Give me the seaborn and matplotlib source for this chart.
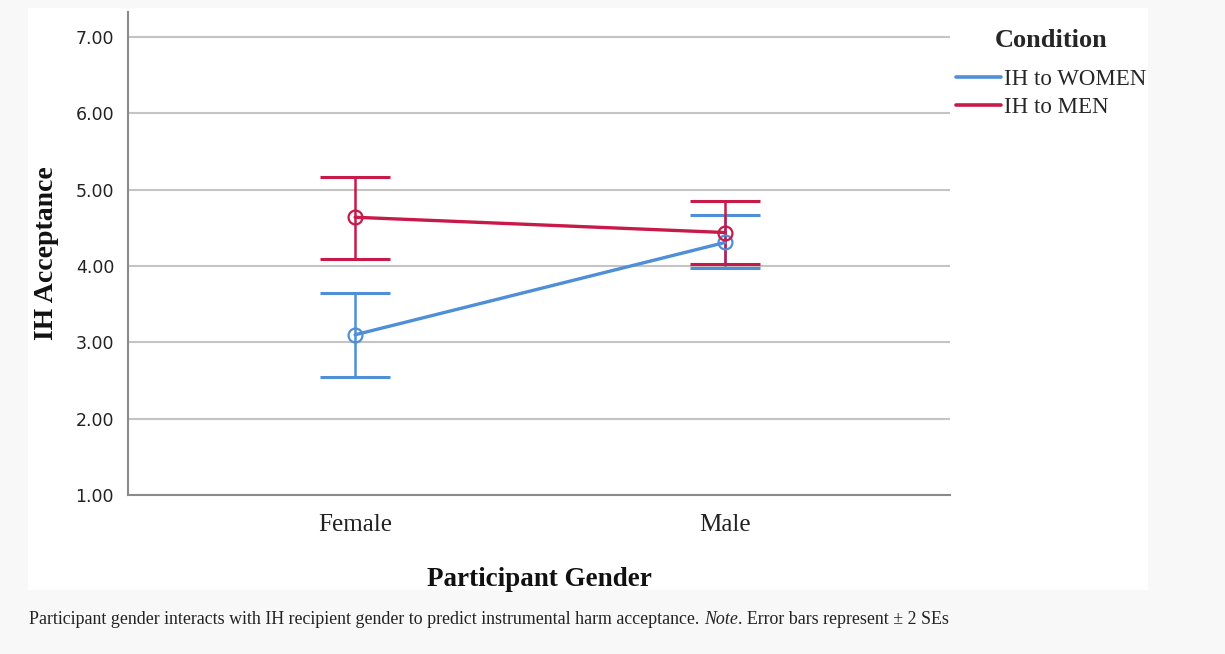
import matplotlib
matplotlib.use("Agg")
import matplotlib.pyplot as plt
import seaborn as sns
import pandas as pd
import numpy as np
from matplotlib.patches import Rectangle
from matplotlib.lines import Line2D

# ---- data ----
participant_gender = ["Female", "Male"]
conditions = ["IH to WOMEN", "IH to MEN"]
means_women = [3.10, 4.31]
means_men = [4.64, 4.44]
lower_women = [2.55, 3.97]
upper_women = [3.65, 4.67]
lower_men = [4.09, 4.03]
upper_men = [5.17, 4.85]
y_ticks = [1, 2, 3, 4, 5, 6, 7]
y_ticklabels = ["1.00", "2.00", "3.00", "4.00", "5.00", "6.00", "7.00"]

colors = {"IH to WOMEN": "#4f8ed8", "IH to MEN": "#c81a48"}

df = pd.DataFrame({
    "Participant Gender": participant_gender * 2,
    "Condition": [conditions[0]] * 2 + [conditions[1]] * 2,
    "IH Acceptance": means_women + means_men,
    "lower": lower_women + lower_men,
    "upper": upper_women + upper_men,
})

sns.set_style("white")
serif = ["Liberation Serif", "DejaVu Serif"]

W, H = 1225, 654
fig = plt.figure(figsize=(W / 100, H / 100), dpi=100, facecolor="#f8f8f8")
# white chart panel
fig.patches.append(Rectangle((28 / W, 1 - 590 / H), (1148 - 28) / W, (590 - 8) / H,
                             transform=fig.transFigure, facecolor="white",
                             edgecolor="none", zorder=-10))

ax = fig.add_axes([128 / W, 1 - 495 / H, (950 - 128) / W, (495 - 12) / H])
ax.set_zorder(1)
ax.set_facecolor("white")

# grid
ax.set_yticks(y_ticks)
ax.yaxis.grid(True, color="#c4c4c4", linewidth=1.5)
ax.set_axisbelow(True)

for cond in conditions:
    sub = df[df["Condition"] == cond]
    xs = np.arange(len(sub))
    ax.errorbar(xs, sub["IH Acceptance"],
                yerr=[sub["IH Acceptance"] - sub["lower"], sub["upper"] - sub["IH Acceptance"]],
                fmt="none", ecolor=colors[cond], elinewidth=1.8, capsize=25,
                capthick=2.2, zorder=3)

n_before = len(ax.lines)
sns.pointplot(data=df, x="Participant Gender", y="IH Acceptance", hue="Condition",
              hue_order=conditions, order=participant_gender, palette=colors,
              errorbar=None, markers="o", linestyles="-", dodge=False,
              ax=ax, legend=False)

for line in ax.lines[n_before:]:
    line.set_linewidth(2.4)
    line.set_markerfacecolor("none")
    line.set_markersize(10)
    line.set_markeredgewidth(1.6)
    line.set_zorder(4)

ax.set_xlim(-0.614, 1.608)
ax.set_ylim(1.0, 7.33)
ax.set_yticks(y_ticks)
ax.set_yticklabels(y_ticklabels, fontsize=12.5, color="#222222", family="DejaVu Sans")
ax.set_xticks([0, 1])
ax.set_xticklabels(participant_gender, fontsize=18, family=serif, color="#222222")
ax.tick_params(axis="x", length=0, pad=14)
ax.tick_params(axis="y", length=0, pad=10)

for s in ["top", "right"]:
    ax.spines[s].set_visible(False)
for s in ["left", "bottom"]:
    ax.spines[s].set_color("#8a8a8a")
    ax.spines[s].set_linewidth(1.5)

ax.set_xlabel("Participant Gender", fontsize=19.5, fontweight="bold", family=serif,
              color="#111111", labelpad=22)
ax.set_ylabel("IH Acceptance", fontsize=20, fontweight="bold", family=serif,
              color="#111111", labelpad=12)

# legend
handles = [Line2D([0], [0], color=colors[c], linewidth=2.6) for c in conditions]
leg = fig.legend(handles, conditions, loc="upper left",
                 bbox_to_anchor=(947 / W, 1 - 20 / H), frameon=False,
                 prop={"family": serif, "size": 16.5}, handlelength=1.95,
                 handletextpad=0.15, labelspacing=0.3, borderaxespad=0,
                 title="Condition",
                 title_fontproperties={"family": serif, "size": 19, "weight": "bold"})
leg._legend_box.align = "center"
leg._legend_box.sep = 12

# caption with italic "Note"
parts = [("Participant gender interacts with IH recipient gender to predict instrumental harm acceptance. ", "normal"),
         ("Note", "italic"),
         (". Error bars represent \u00b1 2 SEs", "normal")]
fig.canvas.draw()
renderer = fig.canvas.get_renderer()
x = 29 / W
for txt, style in parts:
    t = fig.text(x, 1 - 620 / H, txt, fontsize=12.9, family=serif, style=style,
                 color="#222222", va="center", ha="left")
    bb = t.get_window_extent(renderer=renderer)
    x += bb.width / W

fig.savefig("out.png", dpi=100, facecolor=fig.get_facecolor())
